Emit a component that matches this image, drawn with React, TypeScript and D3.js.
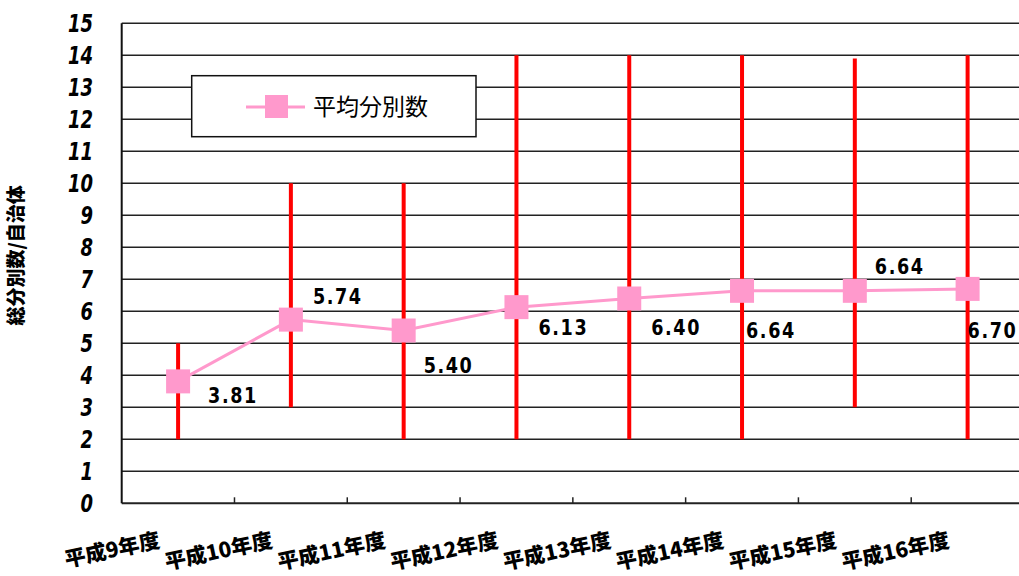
import React from "react";
import * as d3 from "d3";

const categories = ["平成9年度", "平成10年度", "平成11年度", "平成12年度", "平成13年度", "平成14年度", "平成15年度", "平成16年度"];
const averageValues = [3.81, 5.74, 5.4, 6.13, 6.4, 6.64, 6.64, 6.7];
const minValues = [2, 3, 2, 2, 2, 2, 3, 2];
const maxValues = [5, 10, 10, 14, 14, 14, 13.9, 14];
const yTicks = [0, 1, 2, 3, 4, 5, 6, 7, 8, 9, 10, 11, 12, 13, 14, 15];
const seriesName = "平均分別数";
const yTitle = "総分別数/自治体";

// label offsets in pixels relative to point (styling)
const labelDy = [14, -24, 35, 20, 29, 39, -25, 41];
const labelDx = [30, 22, 20, 22, 22, 4, 20, 0];

const W = 1019;
const H = 576;
const left = 121.7;
const right = 1024;
const top = 23.3;
const bottom = 503.3;

export default function App() {
  const x = d3.scaleBand<string>().domain(categories).range([left, right]);
  const y = d3.scaleLinear().domain([0, 15]).range([bottom, top]);
  const cx = (i: number) => (x(categories[i]) as number) + x.bandwidth() / 2;
  const line = d3
    .line<number>()
    .x((_, i) => cx(i))
    .y((d) => y(d));
  const numFont = "'DejaVu Sans', sans-serif";
  const sq = 24;
  return (
    <svg width={W} height={H} style={{ position: "absolute", left: 0, top: 0, background: "#fff" }}>
      {/* gridlines */}
      {yTicks.map((t) => (
        <line key={t} x1={left} x2={W} y1={y(t)} y2={y(t)} stroke="#222" strokeWidth={t === 0 ? 2 : 1.5} />
      ))}
      {/* left axis */}
      <line x1={left} x2={left} y1={top} y2={bottom} stroke="#111" strokeWidth={2} />
      {/* x ticks (category boundaries) */}
      {categories.slice(1).map((c) => (
        <line key={c} x1={x(c) as number} x2={x(c) as number} y1={bottom} y2={bottom - 6} stroke="#222" strokeWidth={1.5} />
      ))}
      {/* y tick labels */}
      {yTicks.map((t) => (
        <text
          key={"l" + t}
          transform={`translate(93,${y(t)}) scale(0.72,1)`}
          dy="0.36em"
          textAnchor="end"
          fontFamily={numFont}
          fontWeight="bold"
          fontStyle="italic"
          fontSize={25}
          fill="#000"
        >
          {t}
        </text>
      ))}
      {/* y title */}
      <text
        transform={`translate(23,${(top + bottom) / 2 - 8}) rotate(-90)`}
        textAnchor="middle"
        fontFamily="'Noto Sans CJK JP', sans-serif"
        fontWeight={900}
        fontSize={19}
        fill="#000"
      >
        {yTitle}
      </text>
      {/* x labels */}
      {categories.map((c, i) => (
        <text
          key={"x" + c}
          transform={`translate(${cx(i) - 17},${547}) rotate(-12)`}
          textAnchor="end"
          fontFamily="'Noto Sans CJK JP', sans-serif"
          fontWeight={900}
          fontSize={21}
          fill="#000"
        >
          {c}
        </text>
      ))}
      {/* range bars */}
      {categories.map((c, i) => (
        <line key={"r" + c} x1={cx(i)} x2={cx(i)} y1={y(minValues[i])} y2={y(maxValues[i])} stroke="#FF0000" strokeWidth={4} />
      ))}
      {/* average line */}
      <path d={line(averageValues) as string} fill="none" stroke="#FF99CC" strokeWidth={3} />
      {averageValues.map((v, i) => (
        <rect key={"m" + i} x={cx(i) - sq / 2} y={y(v) - sq / 2} width={sq} height={sq} fill="#FF99CC" />
      ))}
      {/* data labels */}
      {averageValues.map((v, i) => (
        <text
          key={"d" + i}
          transform={`translate(${cx(i) + labelDx[i]},${y(v) + labelDy[i]}) scale(0.8,1)`}
          dy="0.36em"
          fontFamily={numFont}
          fontWeight="bold"
          fontSize={22}
          letterSpacing={2}
          fill="#000"
        >
          {v.toFixed(2)}
        </text>
      ))}
      {/* legend */}
      <rect x={191.7} y={75.7} width={284.3} height={61} fill="#fff" stroke="#111" strokeWidth={1.5} />
      <line x1={246} x2={305} y1={107} y2={107} stroke="#FF99CC" strokeWidth={3} />
      <rect x={265} y={95} width={23} height={23} fill="#FF99CC" />
      <text x={313} y={107} dy="0.36em" fontFamily="'Noto Sans CJK JP', sans-serif" fontSize={23} fill="#000">
        {seriesName}
      </text>
    </svg>
  );
}
